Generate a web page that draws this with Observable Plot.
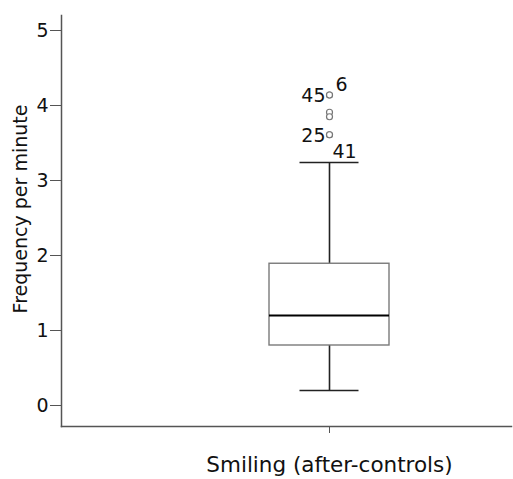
<!DOCTYPE html>
<html>
<head>
<meta charset="utf-8">
<script src="https://cdn.jsdelivr.net/npm/d3@7"></script>
<script src="https://cdn.jsdelivr.net/npm/@observablehq/plot@0.6"></script>
<style>
  body { margin: 0; background: #fff; }
  svg { display: block; }
</style>
</head>
<body>
<div id="chart"></div>
<script>
// Box-plot summary for smiling frequency after the controls
const category = "Smiling (after-controls)";
const whiskerLow = 0.2;
const q1 = 0.8;
const median = 1.2;
const q3 = 1.89;
const whiskerHigh = 3.24;

// Outliers and their case numbers (blank = unlabelled)
const outlierValues = [4.14, 4.14, 3.91, 3.85, 3.61, 3.61];
const outlierCases = ["45", "6", "", "", "25", "41"];

const yTicks = [0, 1, 2, 3, 4, 5];
const yLabel = "Frequency per minute";

const outliers = outlierValues.map((value, i) => ({
  value,
  label: outlierCases[i],
  // a second case at the same value is labelled to the right of the point
  shared: outlierValues.indexOf(value) !== i
}));
const topValue = d3.max(outlierValues);
const leftLabels = outliers.filter(d => d.label && !d.shared);
const upperRightLabels = outliers.filter(d => d.label && d.shared && d.value === topValue);
const lowerRightLabels = outliers.filter(d => d.label && d.shared && d.value !== topValue);

const axisColor = "#555";
const font = "DejaVu Sans";

const chart = Plot.plot({
  width: 513,
  height: 479,
  marginLeft: 61,
  marginRight: 2,
  marginTop: 15,
  marginBottom: 53,
  style: { fontFamily: font, background: "white", color: "#111" },
  x: { type: "band", domain: [category], paddingInner: 0, paddingOuter: 1.36, align: 0.629, label: null },
  y: { domain: [-0.28, 5.2], label: null },
  marks: [
    Plot.frame({ anchor: "left", stroke: axisColor, strokeWidth: 1.5 }),
    Plot.frame({ anchor: "bottom", stroke: axisColor, strokeWidth: 1.5 }),
    Plot.axisY(yTicks, { tickSize: 11, tickPadding: 2, tickFormat: d => String(d), fontSize: 19, stroke: axisColor, fill: "#111", label: null }),
    Plot.axisX({ tickSize: 7, tickPadding: 23, fontSize: 21.5, stroke: axisColor, fill: "#111", label: null }),
    Plot.text([yLabel], { text: d => d, frameAnchor: "left", textAnchor: "middle", rotate: -90, dx: -41, dy: -12, fontSize: 19, fill: "#111" }),

    // whiskers
    Plot.ruleX([category], { x: d => d, y1: whiskerLow, y2: q1, stroke: "#222", strokeWidth: 1.6 }),
    Plot.ruleX([category], { x: d => d, y1: q3, y2: whiskerHigh, stroke: "#222", strokeWidth: 1.6 }),
    Plot.tickY([whiskerLow, whiskerHigh], { x: () => category, y: d => d, insetLeft: 30.5, insetRight: 30.5, stroke: "#222", strokeWidth: 1.6 }),

    // box and median
    Plot.barY([category], { x: d => d, y1: q1, y2: q3, fill: "white", stroke: "#7a7a7a", strokeWidth: 1.4 }),
    Plot.tickY([median], { x: () => category, y: d => d, stroke: "#000", strokeWidth: 2 }),

    // outliers
    Plot.dot(outliers, { x: () => category, y: "value", r: 3, fill: "white", stroke: "#777", strokeWidth: 1.2 }),
    Plot.text(leftLabels, { x: () => category, y: "value", text: "label", textAnchor: "end", dx: -4, dy: 1, fontSize: 19, fill: "#111" }),
    Plot.text(upperRightLabels, { x: () => category, y: "value", text: "label", textAnchor: "start", dx: 6, dy: -10, fontSize: 19, fill: "#111" }),
    Plot.text(lowerRightLabels, { x: () => category, y: "value", text: "label", textAnchor: "start", dx: 3, dy: 17, fontSize: 19, fill: "#111" })
  ]
});

document.getElementById("chart").appendChild(chart);
</script>
</body>
</html>
